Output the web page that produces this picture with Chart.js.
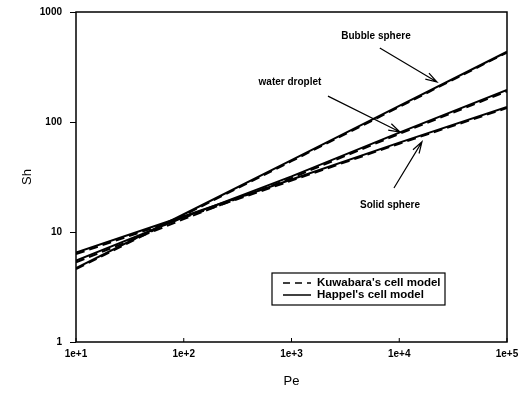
<!DOCTYPE html>
<html>
<head>
<meta charset="utf-8">
<script src="https://cdn.jsdelivr.net/npm/chart.js@4"></script>
<style>
  html, body { margin: 0; padding: 0; background: #fff; }
  #wrap { width: 527px; height: 393px; }
</style>
</head>
<body>
<div id="wrap"><canvas id="shChart" width="527" height="393"></canvas></div>
<script>
// ---- data ----
const peValues = [10, 100, 1000, 10000, 100000];
const xTicks = [10, 100, 1000, 10000, 100000];
const yTicks = [1, 10, 100, 1000];

// Happel's cell model (solid lines)
const bubbleHappel = [4.7, 14.5, 45, 140, 435];
const waterHappel  = [5.5, 13.6, 32, 80, 196];
const solidHappel  = [6.5, 13.9, 30, 65, 137];

// Kuwabara's cell model (dashed lines)
const bubbleKuwabara = [4.6, 14.2, 44, 137, 428];
const waterKuwabara  = [5.3, 13.1, 31, 78, 190];
const solidKuwabara  = [6.3, 13.5, 29.3, 63.5, 134];

// annotation labels + arrows, in (Pe, Sh) coordinates
const notes = [
  { text: 'Bubble sphere', at: [6080, 600],  from: [6600, 471],  to: [22400, 231] },
  { text: 'water droplet', at: [968, 231],   from: [2180, 172],  to: [10170, 81] },
  { text: 'Solid sphere',  at: [8200, 17.6], from: [8930, 25.1], to: [16250, 66] }
];

const legendItems = [
  { label: "Kuwabara's cell model", dash: [7, 5] },
  { label: "Happel's cell model", dash: [] }
];

function toPoints(ys) {
  return peValues.map((x, i) => ({ x: x, y: ys[i] }));
}

function line(label, ys, dashed) {
  return {
    label: label,
    data: toPoints(ys),
    borderColor: '#000',
    borderWidth: 2,
    borderDash: dashed ? [9, 5] : [],
    pointRadius: 0,
    fill: false,
    tension: 0
  };
}

const FONT = '"Liberation Sans", Arial, sans-serif';

function arrow(c, x1, y1, x2, y2) {
  const ang = Math.atan2(y2 - y1, x2 - x1);
  const len = 12, spread = 0.3;
  c.beginPath();
  c.moveTo(x1, y1);
  c.lineTo(x2, y2);
  c.moveTo(x2 - len * Math.cos(ang - spread), y2 - len * Math.sin(ang - spread));
  c.lineTo(x2, y2);
  c.lineTo(x2 - len * Math.cos(ang + spread), y2 - len * Math.sin(ang + spread));
  c.stroke();
}

const extras = {
  id: 'extras',
  afterDraw(chart) {
    const c = chart.ctx;
    const a = chart.chartArea;
    const xs = chart.scales.x, ys = chart.scales.y;
    c.save();
    c.strokeStyle = '#000';
    c.fillStyle = '#000';

    // frame
    c.lineWidth = 1.5;
    c.strokeRect(a.left, a.top, a.right - a.left, a.bottom - a.top);

    // inward ticks on the Pe axis
    c.lineWidth = 1;
    xTicks.forEach(v => {
      const px = xs.getPixelForValue(v);
      c.beginPath();
      c.moveTo(px, a.bottom);
      c.lineTo(px, a.bottom - 4);
      c.stroke();
    });

    // notes
    c.font = 'bold 10px ' + FONT;
    c.textAlign = 'center';
    c.textBaseline = 'middle';
    c.lineWidth = 1.2;
    notes.forEach(n => {
      c.fillText(n.text, xs.getPixelForValue(n.at[0]), ys.getPixelForValue(n.at[1]));
      arrow(c,
        xs.getPixelForValue(n.from[0]), ys.getPixelForValue(n.from[1]),
        xs.getPixelForValue(n.to[0]), ys.getPixelForValue(n.to[1]));
    });

    // legend box
    const bx = a.right - 235, by = a.bottom - 69, bw = 173, bh = 32;
    c.fillStyle = '#fff';
    c.fillRect(bx, by, bw, bh);
    c.lineWidth = 1.2;
    c.strokeRect(bx, by, bw, bh);
    c.fillStyle = '#000';
    c.textAlign = 'left';
    c.font = 'bold 11.5px ' + FONT;
    legendItems.forEach((it, i) => {
      const ly = by + 10 + i * 12;
      c.lineWidth = 1.5;
      c.setLineDash(it.dash);
      c.beginPath();
      c.moveTo(bx + 11, ly);
      c.lineTo(bx + 39, ly);
      c.stroke();
      c.setLineDash([]);
      c.fillText(it.label, bx + 45, ly);
    });
    c.restore();
  }
};

const ctx = document.getElementById('shChart').getContext('2d');

new Chart(ctx, {
  type: 'line',
  data: {
    datasets: [
      line("Happel bubble", bubbleHappel, false),
      line("Happel water", waterHappel, false),
      line("Happel solid", solidHappel, false),
      line("Kuwabara bubble", bubbleKuwabara, true),
      line("Kuwabara water", waterKuwabara, true),
      line("Kuwabara solid", solidKuwabara, true)
    ]
  },
  options: {
    responsive: false,
    animation: false,
    layout: { padding: { top: 12, right: 20, left: 0, bottom: 0 } },
    plugins: {
      legend: { display: false },
      tooltip: { enabled: false }
    },
    scales: {
      x: {
        type: 'logarithmic',
        min: 10,
        max: 100000,
        afterBuildTicks: s => { s.ticks = xTicks.map(v => ({ value: v })); },
        afterFit: s => { s.height = 51; },
        grid: { drawOnChartArea: false, drawTicks: false },
        border: { display: false },
        ticks: {
          color: '#000',
          font: { family: FONT, size: 10, weight: 'bold' },
          padding: 6,
          maxRotation: 0,
          callback: v => '1e+' + Math.round(Math.log10(v))
        },
        title: {
          display: true,
          text: 'Pe',
          color: '#000',
          font: { family: FONT, size: 13 },
          padding: { top: 4 }
        }
      },
      y: {
        type: 'logarithmic',
        min: 1,
        max: 1000,
        afterBuildTicks: s => { s.ticks = yTicks.map(v => ({ value: v })); },
        afterFit: s => { s.width = 76; s.paddingTop = 0; s.paddingBottom = 0; },
        grid: { drawOnChartArea: false, tickLength: 6, color: '#000' },
        border: { display: false },
        ticks: {
          color: '#000',
          font: { family: FONT, size: 10, weight: 'bold' },
          padding: 8,
          callback: v => String(v)
        },
        title: {
          display: true,
          text: 'Sh',
          color: '#000',
          font: { family: FONT, size: 13 },
          padding: { top: 20, bottom: 0 }
        }
      }
    }
  },
  plugins: [extras]
});
</script>
</body>
</html>
